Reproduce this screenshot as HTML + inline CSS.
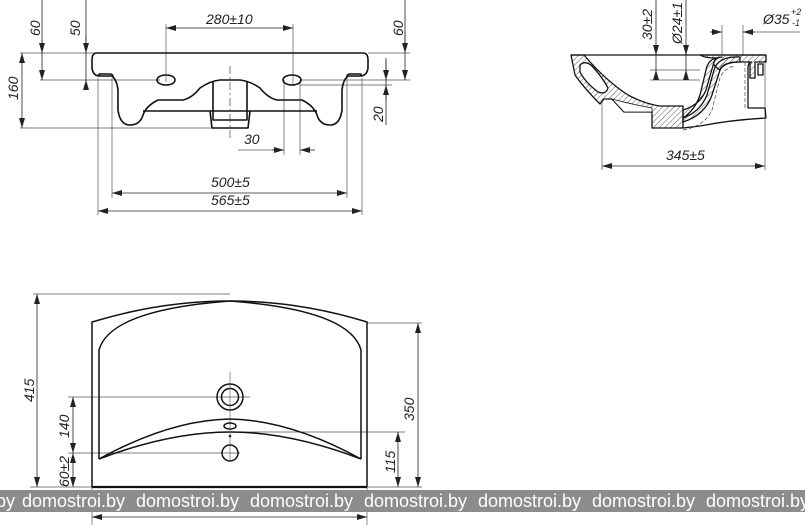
<!DOCTYPE html>
<html><head><meta charset="utf-8"><style>
html,body{margin:0;padding:0;background:#fff;}
body{width:805px;height:525px;overflow:hidden;position:relative;}
svg{position:absolute;left:0;top:0;}
.t{font-family:"Liberation Sans",sans-serif;font-style:italic;font-size:14px;fill:#222;}
.wm{position:absolute;left:0;top:490px;width:805px;height:22px;background:#8c8c8c;color:#fff;font-family:"Liberation Sans",sans-serif;font-size:18px;line-height:22px;white-space:nowrap;overflow:hidden;}
.wm span{position:absolute;top:0;}
</style></head><body>
<svg width="805" height="525" viewBox="0 0 805 525">
<defs>
<marker id="a" viewBox="0 0 10 6" refX="10" refY="3" markerWidth="10" markerHeight="6" orient="auto-start-reverse" markerUnits="userSpaceOnUse"><path d="M0,0 L10,3 L0,6 Z" fill="#222"/></marker>
<pattern id="h" width="4" height="4" patternUnits="userSpaceOnUse" patternTransform="rotate(45)"><line x1="0" y1="0" x2="0" y2="4" stroke="#333" stroke-width="0.8"/></pattern>
</defs>
<g fill="none" stroke="#555" stroke-width="0.7">
<line x1="166" y1="24" x2="166" y2="82"/><line x1="293" y1="24" x2="293" y2="85"/>
<line x1="20" y1="53" x2="97" y2="53"/><line x1="40" y1="80" x2="160" y2="80"/>
<line x1="20" y1="128" x2="212" y2="128"/>
<line x1="368" y1="53" x2="410" y2="53"/><line x1="300" y1="80" x2="410" y2="80"/>
<line x1="300" y1="85" x2="392" y2="85"/>
<line x1="284" y1="80" x2="284" y2="155"/><line x1="300" y1="80" x2="300" y2="155"/>
<line x1="112" y1="78" x2="112" y2="198"/><line x1="347" y1="78" x2="347" y2="198"/>
<line x1="98" y1="78" x2="98" y2="215"/><line x1="362" y1="78" x2="362" y2="215"/>
<line x1="238" y1="150" x2="284" y2="150"/>
<line x1="602" y1="100" x2="602" y2="170"/><line x1="765" y1="60" x2="765" y2="170"/>
<line x1="650" y1="70" x2="700" y2="70"/><line x1="650" y1="80" x2="700" y2="80"/>
<line x1="722" y1="25" x2="722" y2="55"/><line x1="743" y1="25" x2="743" y2="55"/>
<line x1="743" y1="32" x2="800" y2="32"/>
<line x1="33" y1="294" x2="230" y2="294"/><line x1="68" y1="397" x2="250" y2="397"/>
<line x1="68" y1="453" x2="240" y2="453"/><line x1="367" y1="323" x2="422" y2="323"/>
<line x1="230" y1="432" x2="405" y2="432"/>
<line x1="92" y1="487" x2="92" y2="525"/><line x1="367" y1="487" x2="367" y2="525"/>
<line x1="30" y1="487" x2="92" y2="487"/><line x1="367" y1="487" x2="422" y2="487"/>
</g>
<g stroke="#222" stroke-width="0.8" fill="none">
<line x1="166" y1="28" x2="293" y2="28" marker-start="url(#a)" marker-end="url(#a)"/>
<line x1="42" y1="0" x2="42" y2="80"/><line x1="42" y1="40" x2="42" y2="53" marker-end="url(#a)"/><line x1="42" y1="70" x2="42" y2="80" marker-end="url(#a)"/>
<line x1="86" y1="0" x2="86" y2="90"/><line x1="86" y1="35" x2="86" y2="53" marker-end="url(#a)"/><line x1="86" y1="90" x2="86" y2="80" marker-end="url(#a)"/>
<line x1="22" y1="53" x2="22" y2="128" marker-start="url(#a)" marker-end="url(#a)"/>
<line x1="405" y1="0" x2="405" y2="80"/><line x1="405" y1="30" x2="405" y2="53" marker-end="url(#a)"/><line x1="405" y1="72" x2="405" y2="80" marker-end="url(#a)"/>
<line x1="386" y1="58" x2="386" y2="125"/><line x1="386" y1="60" x2="386" y2="80" marker-end="url(#a)"/><line x1="386" y1="100" x2="386" y2="85" marker-end="url(#a)"/>
<line x1="272" y1="150" x2="284" y2="150" marker-end="url(#a)"/><line x1="315" y1="150" x2="300" y2="150" marker-end="url(#a)"/>
<line x1="112" y1="193" x2="347" y2="193" marker-start="url(#a)" marker-end="url(#a)"/>
<line x1="98" y1="211" x2="362" y2="211" marker-start="url(#a)" marker-end="url(#a)"/>
<line x1="602" y1="166" x2="765" y2="166" marker-start="url(#a)" marker-end="url(#a)"/>
<line x1="656" y1="0" x2="656" y2="80"/><line x1="656" y1="45" x2="656" y2="55" marker-end="url(#a)"/><line x1="656" y1="80" x2="656" y2="70" marker-end="url(#a)"/>
<line x1="686" y1="0" x2="686" y2="80"/><line x1="686" y1="45" x2="686" y2="55" marker-end="url(#a)"/><line x1="686" y1="80" x2="686" y2="70" marker-end="url(#a)"/>
<line x1="710" y1="32" x2="722" y2="32" marker-end="url(#a)"/><line x1="755" y1="32" x2="743" y2="32" marker-end="url(#a)"/>
<line x1="37" y1="294" x2="37" y2="487" marker-start="url(#a)" marker-end="url(#a)"/>
<line x1="73" y1="397" x2="73" y2="453" marker-start="url(#a)" marker-end="url(#a)"/>
<line x1="73" y1="453" x2="73" y2="487" marker-start="url(#a)" marker-end="url(#a)"/>
<line x1="418" y1="323" x2="418" y2="487" marker-start="url(#a)" marker-end="url(#a)"/>
<line x1="398" y1="432" x2="398" y2="487" marker-start="url(#a)" marker-end="url(#a)"/>
<line x1="92" y1="517" x2="367" y2="517" marker-start="url(#a)" marker-end="url(#a)"/>
</g>
<g stroke="#111" stroke-width="1.6" fill="none" stroke-linejoin="round">
<path d="M97,53 H363 Q368,53 368,60 V68 Q367,76 360,76 L348,76 Q343,80 342,90 V110 Q340,125 330,125 Q320,125 317,115 Q314,106 302,100 H277 Q268,98 260,88 Q250,81 240,80 H220 Q210,81 200,88 Q192,98 183,100 H158 Q146,106 143,115 Q140,125 130,125 Q120,125 118,110 V90 Q117,80 112,76 L100,76 Q93,76 92,68 V60 Q92,53 97,53 Z"/>
<path d="M99,76 V74 H110 Q113,74 113,77"/><path d="M361,76 V74 H350 Q347,74 347,77"/>
<path d="M143,111 H317"/>
<path d="M213,81 V120 H247 V81"/>
<path d="M210,111 L212,128 H248 L250,111"/>
<ellipse cx="166" cy="80" rx="9" ry="5"/><ellipse cx="292" cy="80" rx="9" ry="5"/>
</g>
<line x1="230" y1="66" x2="230" y2="140" stroke="#444" stroke-width="0.7" stroke-dasharray="8,3,2,3"/>
<g stroke="#111" stroke-width="1.3" stroke-linejoin="round">
<line x1="571" y1="55" x2="766" y2="55" fill="none"/>
<path fill="url(#h)" d="M571,55 H584 Q605,80 628,95 Q645,104 660,106 H683 V128 H652 V112 H624 L612,99 H604 L600,104 Q584,88 575,75 Z"/>
<path fill="#fff" d="M580,65 Q585,60 592,66 Q603,78 608,88 Q606,95 598,92 Q585,82 580,72 Z"/>
<path fill="#fff" d="M612,99 Q630,104 652,108 L652,112 H624 Z" stroke-width="0.8"/>
<path fill="url(#h)" d="M683,110 Q700,105 706,90 L714,62 Q717,57 722,57 L716,58 Q708,60 706,70 L700,95 Q695,110 683,118 Z"/>
<path fill="url(#h)" d="M683,122 Q705,115 712,95 L720,70 Q724,62 740,62 L740,57 Q718,56 714,70 L707,95 Q700,112 683,118 Z"/>
<path fill="url(#h)" d="M700,55 H766 V62 H755 V78 H750 V62 L740,62 Q722,62 720,70 Q712,65 714,62 L716,58 Q705,58 700,55 Z"/>
<path fill="none" d="M752,62 Q748,62 748,68 V108 H765 L766,118 Q730,120 700,126 L683,128"/>
<path fill="none" d="M758,64 H763 V75 H758 Z"/>
</g>
<path d="M683,130 Q705,126 712,110 L720,78 Q724,68 735,66" fill="none" stroke="#444" stroke-width="0.7" stroke-dasharray="4,2"/>
<line x1="745" y1="62" x2="745" y2="110" stroke="#444" stroke-width="0.7" stroke-dasharray="4,2"/>
<g stroke="#111" stroke-width="1.5" fill="none">
<path d="M92,487 V322 Q230,280 367,322 V487"/>
<line x1="92" y1="487" x2="367" y2="487" stroke-width="2.2"/>
<path d="M99,459 V350 Q110,310 230,301 Q350,310 361,350 V459"/>
<path d="M99,459 Q170,420 230,419 Q290,420 361,459"/>
<path d="M99,459 Q170,432 230,432 Q290,432 361,459"/>
<circle cx="230" cy="397" r="13"/><circle cx="230" cy="397" r="8.5"/>
<ellipse cx="230" cy="426" rx="6" ry="3"/>
<circle cx="230" cy="453" r="8"/>
</g>
<circle cx="230" cy="436" r="1.3" fill="#111"/>
<line x1="230" y1="372" x2="230" y2="460" stroke="#555" stroke-width="0.6"/>
<text class="t" x="206" y="24">280±10</text>
<text class="t" transform="translate(40,36) rotate(-90)">60</text>
<text class="t" transform="translate(80,36) rotate(-90)">50</text>
<text class="t" transform="translate(18,100) rotate(-90)">160</text>
<text class="t" transform="translate(403,36) rotate(-90)">60</text>
<text class="t" transform="translate(383,122) rotate(-90)">20</text>
<text class="t" x="244" y="144">30</text>
<text class="t" x="211" y="187">500±5</text>
<text class="t" x="211" y="205">565±5</text>
<text class="t" x="666" y="160">345±5</text>
<text class="t" transform="translate(652,40) rotate(-90)">30±2</text>
<text class="t" transform="translate(682,44) rotate(-90)">Ø24±1</text>
<text class="t" x="763" y="24">Ø35</text><text class="t" x="791" y="15" style="font-size:9px">+2</text><text class="t" x="792" y="26" style="font-size:9px">-1</text>
<text class="t" transform="translate(34,402) rotate(-90)">415</text>
<text class="t" transform="translate(69,438) rotate(-90)">140</text>
<text class="t" transform="translate(69,487) rotate(-90)">60±2</text>
<text class="t" transform="translate(414,421) rotate(-90)">350</text>
<text class="t" transform="translate(395,473) rotate(-90)">115</text>
</svg>
<div class="wm"><span style="left:-4px">by</span><span style="left:22px">domostroi.by</span><span style="left:136px">domostroi.by</span><span style="left:250px">domostroi.by</span><span style="left:364px">domostroi.by</span><span style="left:478px">domostroi.by</span><span style="left:592px">domostroi.by</span><span style="left:706px">domostroi.by</span></div>
</body></html>
